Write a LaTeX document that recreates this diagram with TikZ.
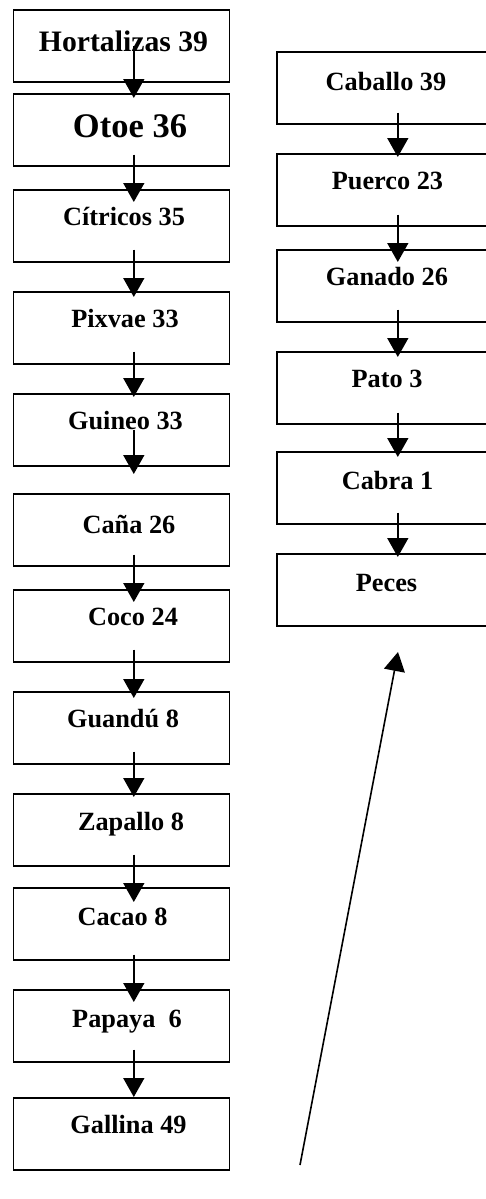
\documentclass[tikz,border=0pt]{standalone}
\usepackage{fontspec}
\setmainfont{Liberation Serif}
\usetikzlibrary{arrows.meta}
\newcommand\conn[5]{\draw[arr] ([xshift=#5, yshift=#3]#1.south) -- ([xshift=#5, yshift=#4]#2.north);}
\begin{document}
\begin{tikzpicture}[x=1pt,y=-1pt,
  lbox/.style={draw, line width=1.6pt, minimum width=216pt, minimum height=72pt, inner sep=0pt, anchor=north west},
  rbox/.style={lbox, minimum width=244pt},
  lbl/.style={anchor=base, inner sep=0pt, font=\bfseries\fontsize{26.3}{30}\selectfont},
  arr/.style={line width=1.6pt, -{Triangle[length=19pt,width=21pt]}}]
\useasboundingbox (0,0) rectangle (486,1199);
\clip (0,0) rectangle (486,1199);
% left column
\node[lbox] (b1) at (12.7,9) {};
\node[lbox] (b2) at (12.7,93) {};
\node[lbox] (b3) at (12.7,189) {};
\node[lbox] (b4) at (12.7,291) {};
\node[lbox] (b5) at (12.7,393) {};
\node[lbox] (b6) at (12.7,493) {};
\node[lbox] (b7) at (12.7,589) {};
\node[lbox] (b8) at (12.7,691) {};
\node[lbox] (b9) at (12.7,793) {};
\node[lbox] (b10) at (12.7,887) {};
\node[lbox] (b11) at (12.7,989) {};
\node[lbox] (b12) at (12.7,1097) {};
\node[lbl, font=\bfseries\fontsize{29.7}{34}\selectfont] (t1) at (123.5,52) {Hortalizas 39};
\node[lbl, font=\bfseries\fontsize{34.5}{40}\selectfont] (t2) at (130,137) {Otoe 36};
\node[lbl] (t3) at (124,225) {Cítricos 35};
\node[lbl] (t4) at (125,327) {Pixvae 33};
\node[lbl] (t5) at (125.5,429) {Guineo 33};
\node[lbl] (t6) at (129,533) {Caña 26};
\node[lbl] (t7) at (133,625) {Coco 24};
\node[lbl] (t8) at (123,727) {Guandú 8};
\node[lbl] (t9) at (131,830) {Zapallo 8};
\node[lbl] (t10) at (122.5,925) {Cacao 8};
\node[lbl] (t11) at (127,1027) {Papaya\ \ 6};
\node[lbl] (t12) at (128.5,1133) {Gallina 49};
% right column
\node[rbox] (r1) at (276,51) {};
\node[rbox] (r2) at (276,153) {};
\node[rbox] (r3) at (276,249) {};
\node[rbox] (r4) at (276,351) {};
\node[rbox] (r5) at (276,451) {};
\node[rbox] (r6) at (276,553) {};
\node[lbl] (s1) at (386,90) {Caballo 39};
\node[lbl] (s2) at (387.5,189) {Puerco 23};
\node[lbl] (s3) at (387,285) {Ganado 26};
\node[lbl] (s4) at (387,387) {Pato 3};
\node[lbl] (s5) at (387.5,489) {Cabra 1};
\node[lbl] (s6) at (386.5,591) {Peces};
% left arrows
\conn{b1}{b2}{37pt}{-5pt}{12.3pt}
\conn{b2}{b3}{12pt}{-13pt}{12.3pt}
\conn{b3}{b4}{13pt}{-6pt}{12.3pt}
\conn{b4}{b5}{13pt}{-4pt}{12.3pt}
\conn{b5}{b6}{37pt}{19pt}{12.3pt}
\conn{b6}{b7}{12pt}{-13pt}{12.3pt}
\conn{b7}{b8}{13pt}{-7pt}{12.3pt}
\conn{b8}{b9}{13pt}{-4pt}{12.3pt}
\conn{b9}{b10}{12pt}{-15pt}{12.3pt}
\conn{b10}{b11}{6pt}{-13pt}{12.3pt}
\conn{b11}{b12}{13pt}{0pt}{12.3pt}
% right arrows
\conn{r1}{r2}{12pt}{-4pt}{-1pt}
\conn{r2}{r3}{12pt}{-13pt}{-1pt}
\conn{r3}{r4}{13pt}{-6pt}{-1pt}
\conn{r4}{r5}{12pt}{-6pt}{-1pt}
\conn{r5}{r6}{12pt}{-4pt}{-1pt}
% long arrow
\coordinate (ls) at (300,1165);
\coordinate (le) at (398,652);
\draw[arr] (ls) -- (le);
\end{tikzpicture}
\end{document}
